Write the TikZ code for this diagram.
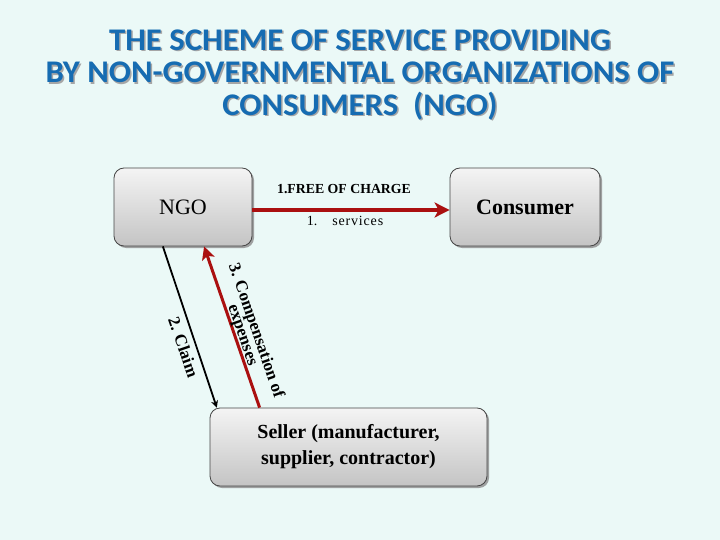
\documentclass[tikz,border=0pt]{standalone}
\usepackage{fontspec}
\setmainfont{Liberation Serif}
\newfontfamily\titlefont{Carlito}
\usetikzlibrary{arrows.meta,calc,shadows}
\definecolor{bgc}{RGB}{235,249,247}
\definecolor{titleblue}{RGB}{22,108,178}
\definecolor{arrred}{RGB}{170,16,16}
\definecolor{boxtop}{RGB}{244,244,244}
\definecolor{boxbot}{RGB}{196,196,196}
\definecolor{boxline}{RGB}{70,70,70}
\tikzset{
  gbox/.style={rectangle,rounded corners=10pt,draw=boxline,line width=0.8pt,
    top color=boxtop,bottom color=boxbot,
    drop shadow={shadow xshift=2pt,shadow yshift=-2pt,fill=black!45,opacity=0.8},
    align=center,inner sep=2pt},
  ttl/.style={font=\titlefont\bfseries\fontsize{31.5}{32.5}\selectfont,text=titleblue,align=center,xscale=1.04},
  rlab/.style={font=\bfseries\fontsize{17}{14}\selectfont,align=center,inner sep=0pt},
  redarr/.style={draw=arrred,line width=3.8pt,-{Stealth[length=15pt,width=15pt,inset=4pt]}},
  blkarr/.style={draw=black,line width=1.8pt,-{Stealth[length=7pt,width=7pt]}}
}
\begin{document}
\begin{tikzpicture}[x=1pt,y=-1pt]
\fill[bgc] (0,0) rectangle (720,540);
\useasboundingbox (0,0) rectangle (720,540);
% title with shadow
\node[ttl,text=black!35] at (361.5,76.5) {THE SCHEME OF SERVICE PROVIDING\\BY NON-GOVERNMENTAL ORGANIZATIONS OF\\CONSUMERS~~(NGO)};
\node[ttl] (title) at (360,75) {THE SCHEME OF SERVICE PROVIDING\\BY NON-GOVERNMENTAL ORGANIZATIONS OF\\CONSUMERS~~(NGO)};
% boxes
\node[gbox,minimum width=138pt,minimum height=78pt,font=\fontsize{22}{24}\selectfont] (NGO) at (183,207) {NGO};
\node[gbox,minimum width=150pt,minimum height=78pt,font=\bfseries\fontsize{22}{24}\selectfont] (Consumer) at (525,207) {Consumer};
\node[gbox,minimum width=277pt,minimum height=78pt,font=\bfseries\fontsize{20}{26}\selectfont] (Seller) at (348.5,447) {Seller (manufacturer,\\supplier, contractor)};
% arrow 1
\draw[redarr] ($(NGO.east)+(0,3)$) coordinate (a1) -- ($(Consumer.west)+(0,3)$) coordinate (a2);
\node[font=\bfseries\fontsize{13.8}{15}\selectfont] (l1) at (344,189) {1.FREE OF CHARGE};
\node[font=\fontsize{14}{15}\selectfont] (l2) at (345,221) {1.\hspace{15pt}\addfontfeature{LetterSpace=6}services};
% arrow 2 claim
\coordinate (b1) at ($(NGO.south west)!0.355!(NGO.south east)$);
\coordinate (b2) at ($(Seller.north west)!0.026!(Seller.north east)$);
\draw[blkarr] (b1) -- (b2);
\node[rlab,rotate=-71] (l3) at (183.5,347) {2. Claim};
% arrow 3 compensation
\coordinate (c1) at ($(Seller.north west)!0.18!(Seller.north east)$);
\coordinate (c2) at ($(NGO.south west)!0.652!(NGO.south east)$);
\draw[redarr,line width=3pt,-{Stealth[length=13pt,width=13pt,inset=3pt]}] (c1) -- (c2);
\node[rlab,rotate=-71] (l4) at (249,333) {3. Compensation of\\expenses};
\end{tikzpicture}
\end{document}
